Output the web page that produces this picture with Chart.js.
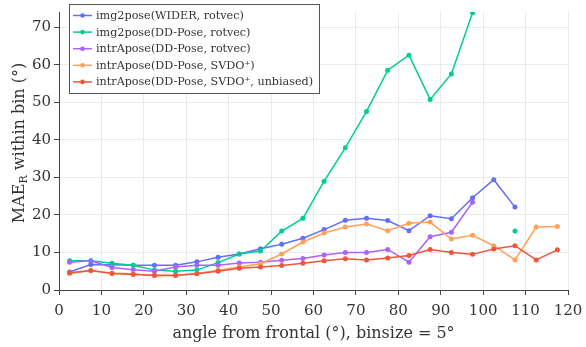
<!DOCTYPE html>
<html>
<head>
<meta charset="utf-8">
<script src="https://cdn.jsdelivr.net/npm/chart.js@4/dist/chart.umd.min.js"></script>
<style>
  html, body { margin: 0; padding: 0; background: #fff; }
  #wrap { width: 586px; height: 347px; }
</style>
</head>
<body>
<div id="wrap"><canvas id="chart" width="586" height="347"></canvas></div>
<script>
// bin centres (degrees from frontal)
const binCenters = [2.5, 7.5, 12.5, 17.5, 22.5, 27.5, 32.5, 37.5, 42.5, 47.5, 52.5, 57.5,
                    62.5, 67.5, 72.5, 77.5, 82.5, 87.5, 92.5, 97.5, 102.5, 107.5, 112.5, 117.5];

const img2poseWider = [4.8, 6.8, 6.7, 6.6, 6.6, 6.6, 7.5, 8.7, 9.6, 11.0, 12.2, 13.8,
                       16.1, 18.6, 19.1, 18.5, 15.8, 19.8, 19.0, 24.6, 29.4, 22.1, null, null];
const img2poseDD = [7.8, 7.8, 7.1, 6.6, 5.3, 5.0, 5.3, 7.3, 9.6, 10.4, 15.7, 19.1,
                    29.0, 37.9, 47.6, 58.6, 62.6, 50.8, 57.6, 73.9, null, 15.7, null, null];
const intraposeRotvec = [7.4, 7.8, 6.0, 5.4, 5.0, 6.1, 6.6, 6.6, 7.2, 7.4, 7.9, 8.4,
                         9.3, 10.0, 10.0, 10.8, 7.4, 14.2, 15.4, 23.4, null, null, null, null];
const intraposeSvdo = [4.4, 5.1, 4.5, 4.3, 3.8, 3.8, 4.4, 5.3, 6.1, 7.0, 9.6, 12.8,
                       15.2, 16.8, 17.6, 15.8, 17.8, 18.1, 13.6, 14.6, 11.8, 8.0, 16.8, 16.9];
const intraposeUnbiased = [4.6, 5.2, 4.4, 4.1, 3.9, 3.9, 4.3, 5.0, 5.8, 6.1, 6.5, 7.1,
                           7.8, 8.3, 8.0, 8.5, 9.2, 10.8, 10.0, 9.5, 10.9, 11.8, 8.0, 10.7];

const seriesLabels = ['img2pose(WIDER, rotvec)', 'img2pose(DD-Pose, rotvec)', 'intrApose(DD-Pose, rotvec)',
                      'intrApose(DD-Pose, SVDO\u207A)', 'intrApose(DD-Pose, SVDO\u207A, unbiased)'];
const seriesColors = ['#636efa', '#00cc96', '#ab63fa', '#ffa15a', '#ef553b'];
const seriesValues = [img2poseWider, img2poseDD, intraposeRotvec, intraposeSvdo, intraposeUnbiased];

const xTicks = [0, 10, 20, 30, 40, 50, 60, 70, 80, 90, 100, 110, 120];
const yTicks = [0, 10, 20, 30, 40, 50, 60, 70];

const FONT = "'DejaVu Serif', serif";

const datasets = seriesValues.map(function (vals, i) {
    return {
        label: seriesLabels[i],
        data: binCenters.map(function (x, j) { return { x: x, y: vals[j] }; }),
        borderColor: seriesColors[i],
        backgroundColor: seriesColors[i],
        borderWidth: 1.5,
        pointRadius: 2.5,
        pointBorderWidth: 0,
        spanGaps: false,
        order: 5 - i
    };
});

// legend box inside the plot + axis titles (y title needs a subscript)
const overlay = {
    id: 'overlay',
    afterDraw: function (chart) {
        const ctx = chart.ctx;
        ctx.save();
        // legend
        const bx = 69.5, by = 4.5, bw = 250, bh = 89;
        ctx.fillStyle = '#ffffff';
        ctx.fillRect(bx, by, bw, bh);
        ctx.strokeStyle = '#555';
        ctx.lineWidth = 1;
        ctx.strokeRect(bx, by, bw, bh);
        ctx.font = '11.2px ' + FONT;
        ctx.textBaseline = 'middle';
        for (let i = 0; i < seriesLabels.length; i++) {
            const yy = 15.5 + i * 16.6;
            ctx.strokeStyle = seriesColors[i];
            ctx.lineWidth = 1.5;
            ctx.beginPath();
            ctx.moveTo(73, yy);
            ctx.lineTo(92, yy);
            ctx.stroke();
            ctx.fillStyle = seriesColors[i];
            ctx.beginPath();
            ctx.arc(82.5, yy, 2.3, 0, Math.PI * 2);
            ctx.fill();
            ctx.fillStyle = '#333';
            ctx.fillText(seriesLabels[i], 96, yy + 0.5);
        }
        // x title
        const area = chart.chartArea;
        ctx.font = '16px ' + FONT;
        ctx.fillStyle = '#333';
        ctx.textAlign = 'center';
        ctx.fillText('angle from frontal (\u00B0), binsize = 5\u00B0', (area.left + area.right) / 2, 334);
        // y title
        ctx.translate(20, 143);
        ctx.rotate(-Math.PI / 2);
        const big = '16px ' + FONT, small = '11px ' + FONT;
        const p1 = 'MAE', p2 = 'R', p3 = ' within bin (\u00B0)';
        ctx.font = big; const w1 = ctx.measureText(p1).width;
        const w3 = ctx.measureText(p3).width;
        ctx.font = small; const w2 = ctx.measureText(p2).width;
        let x0 = -(w1 + w2 + w3) / 2;
        ctx.textAlign = 'left';
        ctx.font = big; ctx.fillText(p1, x0, 0);
        ctx.font = small; ctx.fillText(p2, x0 + w1, 4);
        ctx.font = big; ctx.fillText(p3, x0 + w1 + w2, 0);
        ctx.restore();
    }
};

new Chart(document.getElementById('chart'), {
    type: 'line',
    data: { datasets: datasets },
    plugins: [overlay],
    options: {
        responsive: false,
        animation: false,
        devicePixelRatio: 1,
        layout: { padding: { top: 0, right: 18, left: 0, bottom: 0 } },
        plugins: {
            legend: { display: false },
            tooltip: { enabled: false }
        },
        scales: {
            x: {
                type: 'linear',
                min: 0,
                max: 120,
                afterBuildTicks: function (scale) { scale.ticks = xTicks.map(function (v) { return { value: v }; }); },
                afterFit: function (scale) {
                    scale.height = 57;
                    scale.paddingLeft = 0;
                    scale.paddingRight = 0;
                },
                ticks: { color: '#333', font: { family: FONT, size: 15 }, padding: 7, maxRotation: 0 },
                grid: { color: '#ebebeb', tickColor: '#444', tickLength: 5 },
                border: { color: '#444', width: 1 }
            },
            y: {
                min: 0,
                max: 74.1,
                afterBuildTicks: function (scale) { scale.ticks = yTicks.map(function (v) { return { value: v }; }); },
                afterFit: function (scale) { scale.width = 59; },
                ticks: { color: '#333', font: { family: FONT, size: 15 }, padding: 3 },
                grid: { color: '#ebebeb', tickColor: '#444', tickLength: 5 },
                border: { color: '#444', width: 1 }
            }
        }
    }
});
</script>
</body>
</html>
